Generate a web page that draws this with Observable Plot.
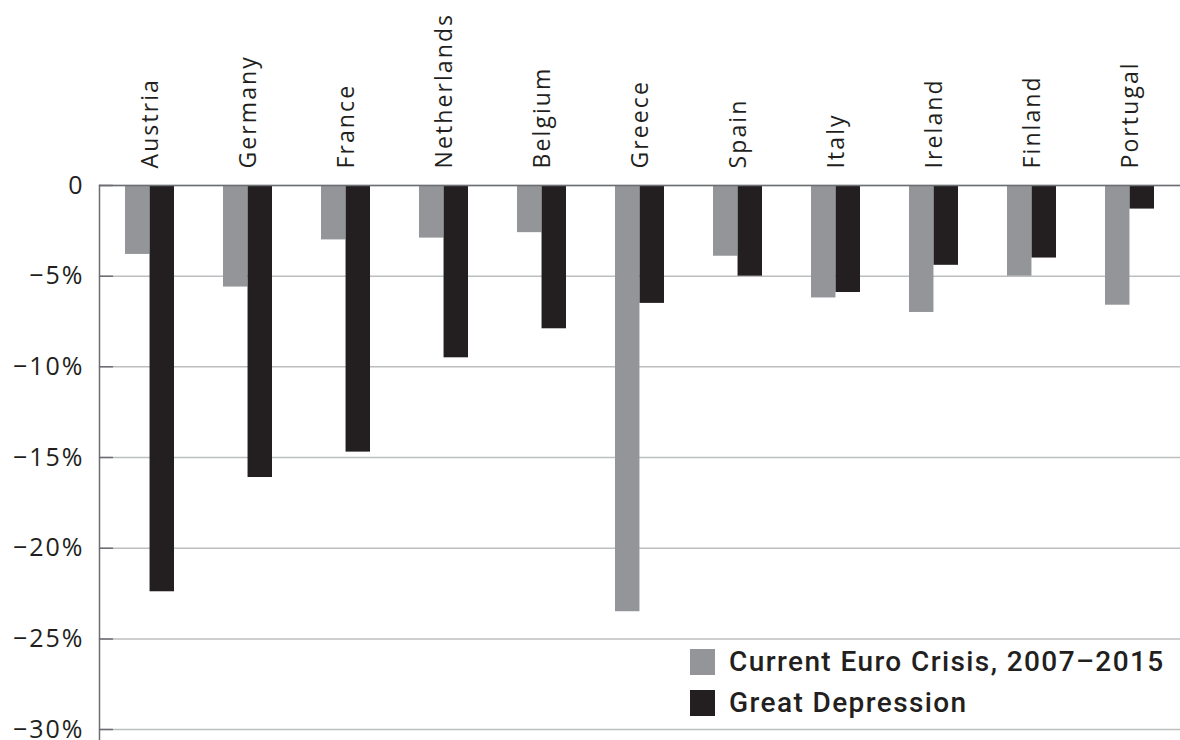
<!DOCTYPE html>
<html>
<head>
<meta charset="utf-8">
<script src="https://cdn.jsdelivr.net/npm/d3@7"></script>
<script src="https://cdn.jsdelivr.net/npm/@observablehq/plot@0.6"></script>
<style>
  html, body { margin: 0; padding: 0; background: #fff; }
  #chart { position: relative; width: 1180px; height: 740px; }
  #chart svg { font-family: "Open Sans", sans-serif; }
  .legend { position: absolute; left: 690px; top: 649px; font-family: Roboto, sans-serif;
            font-weight: 500; font-size: 28px; color: #231f20; letter-spacing: 1.4px; }
  .legend .row { display: flex; align-items: center; height: 26px; margin-bottom: 15px; }
  .legend .sw { width: 25px; height: 26px; margin-right: 14px; flex: none; }
  .legend span.t { line-height: 26px; white-space: nowrap; }
</style>
</head>
<body>
<div id="chart"></div>
<script>
// Decline in real GDP per country, in percent
const countries = ["Austria", "Germany", "France", "Netherlands", "Belgium", "Greece",
                   "Spain", "Italy", "Ireland", "Finland", "Portugal"];
const euroCrisis = [-3.8, -5.6, -3.0, -2.9, -2.6, -23.5, -3.9, -6.2, -7.0, -5.0, -6.6];
const greatDepression = [-22.4, -16.1, -14.7, -9.5, -7.9, -6.5, -5.0, -5.9, -4.4, -4.0, -1.3];
const seriesNames = ["Current Euro Crisis, 2007–2015", "Great Depression"];
const seriesColors = ["#939598", "#231f20"];
const yTicks = [0, -5, -10, -15, -20, -25, -30];

const rows = [];
countries.forEach((c, i) => {
  rows.push({country: c, series: seriesNames[0], value: euroCrisis[i]});
  rows.push({country: c, series: seriesNames[1], value: greatDepression[i]});
});

const tickLabel = d => d === 0 ? "0" : `\u2212${Math.abs(d)}%`;
const axisGray = "#6d6e71";
const half = 24.55;

// short inward tick: a segment drawn to the right of the y axis
const inwardTick = {
  draw(context, length) {
    context.moveTo(0, 0);
    context.lineTo(0, -length);
  }
};

const chart = Plot.plot({
  width: 1180,
  height: 740,
  marginTop: 185,
  marginBottom: 0,
  marginLeft: 99,
  marginRight: 0,
  x: {domain: countries, paddingInner: 0.5, paddingOuter: 0.25, axis: null},
  y: {domain: [-30.6, 0], axis: null},
  color: {domain: seriesNames, range: seriesColors},
  marks: [
    Plot.gridY(yTicks, {stroke: "#bcbec0", strokeOpacity: 1, strokeWidth: 1.5}),
    Plot.barY(rows.filter(d => d.series === seriesNames[0]),
      {x: "country", y: "value", fill: "series", insetRight: half}),
    Plot.barY(rows.filter(d => d.series === seriesNames[1]),
      {x: "country", y: "value", fill: "series", insetLeft: half}),
    Plot.vector(yTicks, {y: d => d, frameAnchor: "left", rotate: 90, length: 13,
      anchor: "start", shape: inwardTick, stroke: axisGray, strokeWidth: 1.5}),
    Plot.axisY(yTicks, {tickSize: 0, tickPadding: 15, tickFormat: tickLabel, label: null,
      fontSize: 25, fill: "#231f20"}),
    Plot.ruleY([0], {stroke: axisGray, strokeWidth: 1.5}),
    Plot.frame({anchor: "left", stroke: axisGray, strokeWidth: 1.5}),
    Plot.text(countries, {x: d => d, frameAnchor: "top", rotate: -90, textAnchor: "start",
      lineAnchor: "middle", dy: -17, dx: 1, fontSize: 23, fill: "#231f20"})
  ]
});

const host = document.getElementById("chart");
host.appendChild(chart);

// letter spacing for the axis texts
const svg = d3.select(chart);
svg.selectAll('g[aria-label="y-axis tick label"] text').style("letter-spacing", "2px");
svg.selectAll('g[aria-label="text"] text').style("letter-spacing", "2.1px");

const legend = document.createElement("div");
legend.className = "legend";
seriesNames.forEach((name, i) => {
  const row = document.createElement("div");
  row.className = "row";
  const sw = document.createElement("div");
  sw.className = "sw";
  sw.style.background = seriesColors[i];
  const t = document.createElement("span");
  t.className = "t";
  t.textContent = name;
  row.appendChild(sw);
  row.appendChild(t);
  legend.appendChild(row);
});
host.appendChild(legend);
</script>
</body>
</html>
